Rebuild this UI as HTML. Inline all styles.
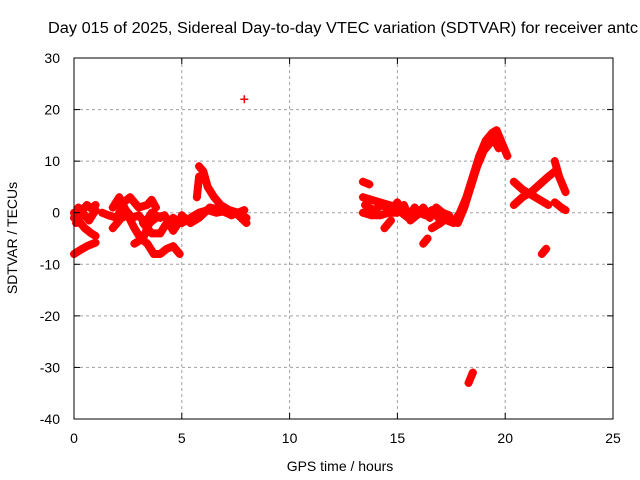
<!DOCTYPE html>
<html><head><meta charset="utf-8"><style>
html,body{margin:0;padding:0;background:#fff}
svg{display:block;font-family:"Liberation Sans",sans-serif}
</style></head><body>
<svg id="chart" width="640" height="480">
<text x="48" y="33" font-size="15.5" textLength="590" lengthAdjust="spacingAndGlyphs">Day 015 of 2025, Sidereal Day-to-day VTEC variation (SDTVAR) for receiver antc</text>
<g id="grid"></g>
<g id="data"></g>
<rect x="74" y="58" width="539" height="361" fill="none" stroke="#000" stroke-width="1"/>
<g id="ticks"></g>
<text x="340" y="471" font-size="14" text-anchor="middle">GPS time / hours</text>
<text x="17" y="238" font-size="14" text-anchor="middle" transform="rotate(-90 17 238)">SDTVAR / TECUs</text>
</svg>
<script>
const xTicks=[0,5,10,15,20,25];
const yTicks=[30,20,10,0,-10,-20,-30,-40];
const trackA=[[0,-8],[0.3,-7.2],[0.6,-6.5],[1,-5.8]];
const trackB=[[0,-1],[0.2,1],[0.4,0.5],[0.6,1.5],[0.8,0.8],[1,1.5]];
const trackC=[[0,0],[0.3,-2],[0.5,-3],[0.8,-4],[1,-4.5]];
const trackC2=[[0.1,-2],[0.4,0],[0.7,-1.5],[1,0.5]];
const trackD=[[1.3,0],[1.6,-0.5],[2,-1],[2.3,2],[2.6,3],[3,1],[3.4,1.5],[3.6,2.5],[3.8,1]];
const trackD2=[[1.8,1],[2.1,3],[2.4,0.5],[2.7,-1],[3,-0.5],[3.3,-2],[3.6,0],[4,-1]];
const trackE=[[1.8,-3],[2.2,-1],[2.5,-0.5],[2.8,-3],[3.1,-5],[3.4,-6],[3.7,-8],[4,-8],[4.3,-7],[4.6,-6.5],[4.9,-8]];
const trackF=[[3.2,-2],[3.6,-4],[4,-4],[4.3,-2],[4.6,-1],[5,-2],[5.4,-1],[5.8,0],[6.2,0.5],[6.6,0],[7,0.3],[7.5,0],[8,-2]];
const trackF2=[[5,-0.5],[5.4,-2],[5.8,-1],[6.3,1],[6.8,0.5],[7.3,-0.5],[7.9,0.5]];
const trackG=[[2.8,-6],[3.2,-5],[3.5,-2],[3.8,-1],[4.2,-0.5],[4.6,-3.5],[5,-1],[5.3,-1.5]];
const trackH=[[5.8,9],[6,8],[6.2,5],[6.5,3],[6.8,1.5],[7.2,0.5],[7.6,0],[8,-1]];
const trackI=[[5.7,3],[5.75,5],[5.8,7]];
const outlier1=[[7.9,22]];
const trackJ=[[13.4,6],[13.7,5.5]];
const trackK=[[13.4,3],[13.8,2.5],[14.2,2],[14.6,1.5],[15,1]];
const trackL=[[13.4,0],[13.8,-0.5],[14.2,-0.5],[14.6,0],[15,0]];
const trackL2=[[13.5,1.5],[13.9,0.5],[14.3,1.5],[14.7,0.5],[15,2]];
const trackM=[[14.4,-3],[14.7,-1.5]];
const trackN=[[15.2,0],[15.5,-1],[15.8,1],[16,0],[16.3,-0.5],[16.6,0.5],[16.9,-1],[17.3,-1.5],[17.6,-2]];
const trackN2=[[15.3,1.5],[15.6,-1.5],[15.9,-0.5],[16.2,1],[16.5,-1],[16.8,1],[17.1,0],[17.4,-0.5]];
const trackO=[[16.2,-6],[16.4,-5]];
const trackP=[[16.6,-3],[17,-2],[17.3,-1]];
const trackQ=[[17.6,-2],[17.9,0],[18.2,3],[18.5,7],[18.8,11],[19.1,14],[19.4,15.5],[19.6,16],[19.8,14],[20,12],[20.1,11]];
const trackR=[[17.8,-2],[18.1,1],[18.4,5],[18.7,9],[19,12],[19.3,13.5],[19.5,14],[19.7,12.5]];
const outlier2=[[18.3,-33],[18.4,-32],[18.5,-31]];
const trackS=[[20.4,6],[20.8,4.5],[21.2,3.5],[21.6,2.5],[22,1.5]];
const trackT=[[20.4,1.5],[20.8,3],[21.2,4],[21.6,5.5],[22,7],[22.3,8]];
const trackU=[[21.7,-8],[21.9,-7]];
const trackV=[[22.3,10],[22.5,7],[22.7,5],[22.8,4]];
const trackW=[[22.3,2],[22.6,1],[22.8,0.5]];
const tracks=[trackA,trackB,trackC,trackC2,trackD,trackD2,trackE,trackF,trackF2,trackG,trackH,trackI,outlier1,trackJ,trackK,trackL,trackL2,trackM,trackN,trackN2,trackO,trackP,trackQ,trackR,outlier2,trackS,trackT,trackU,trackV,trackW];
const X=t=>74+t*(539/25);
const Y=v=>58+(30-v)*(361/70);
const NS='http://www.w3.org/2000/svg';
function mk(tag,attrs,parent){const e=document.createElementNS(NS,tag);for(const k in attrs)e.setAttribute(k,attrs[k]);parent.appendChild(e);return e;}
const grid=document.getElementById('grid'),ticks=document.getElementById('ticks'),data=document.getElementById('data');
xTicks.forEach(t=>{
  if(t>0&&t<25){const g=mk('line',{x1:X(t),x2:X(t),y1:58,y2:419,stroke:'#a0a0a0','stroke-dasharray':'3,3'},grid);
  
  }
  mk('line',{x1:X(t),x2:X(t),y1:419,y2:413,stroke:'#000'},ticks);
  mk('line',{x1:X(t),x2:X(t),y1:58,y2:64,stroke:'#000'},ticks);
  const l=mk('text',{x:X(t),y:443,'font-size':14,'text-anchor':'middle'},ticks);l.textContent=t;
  
  
});
yTicks.forEach(v=>{
  if(v<30&&v>-40){const g=mk('line',{x1:74,x2:613,y1:Y(v),y2:Y(v),stroke:'#a0a0a0','stroke-dasharray':'3,3'},grid);
  
  }
  mk('line',{x1:74,x2:80,y1:Y(v),y2:Y(v),stroke:'#000'},ticks);
  mk('line',{x1:607,x2:613,y1:Y(v),y2:Y(v),stroke:'#000'},ticks);
  const l=mk('text',{x:60,y:Y(v)+5,'font-size':14,'text-anchor':'end'},ticks);l.textContent=v;
  
  
});
tracks.forEach(tr=>{
  const g=mk('g',{},data);
  
  
  if(tr.length>1){mk('polyline',{points:tr.map(p=>X(p[0])+','+Y(p[1])).join(' '),fill:'none',stroke:'#f00','stroke-width':8,'stroke-linejoin':'round','stroke-linecap':'round'},g);}
  tr.forEach(p=>{const x=X(p[0]),y=Y(p[1]);
    const m=mk('path',{d:`M${x-4},${y}H${x+4}M${x},${y-4}V${y+4}`,stroke:'#f00','stroke-width':1.5},g);
    
    });
});
</script>
</body></html>
